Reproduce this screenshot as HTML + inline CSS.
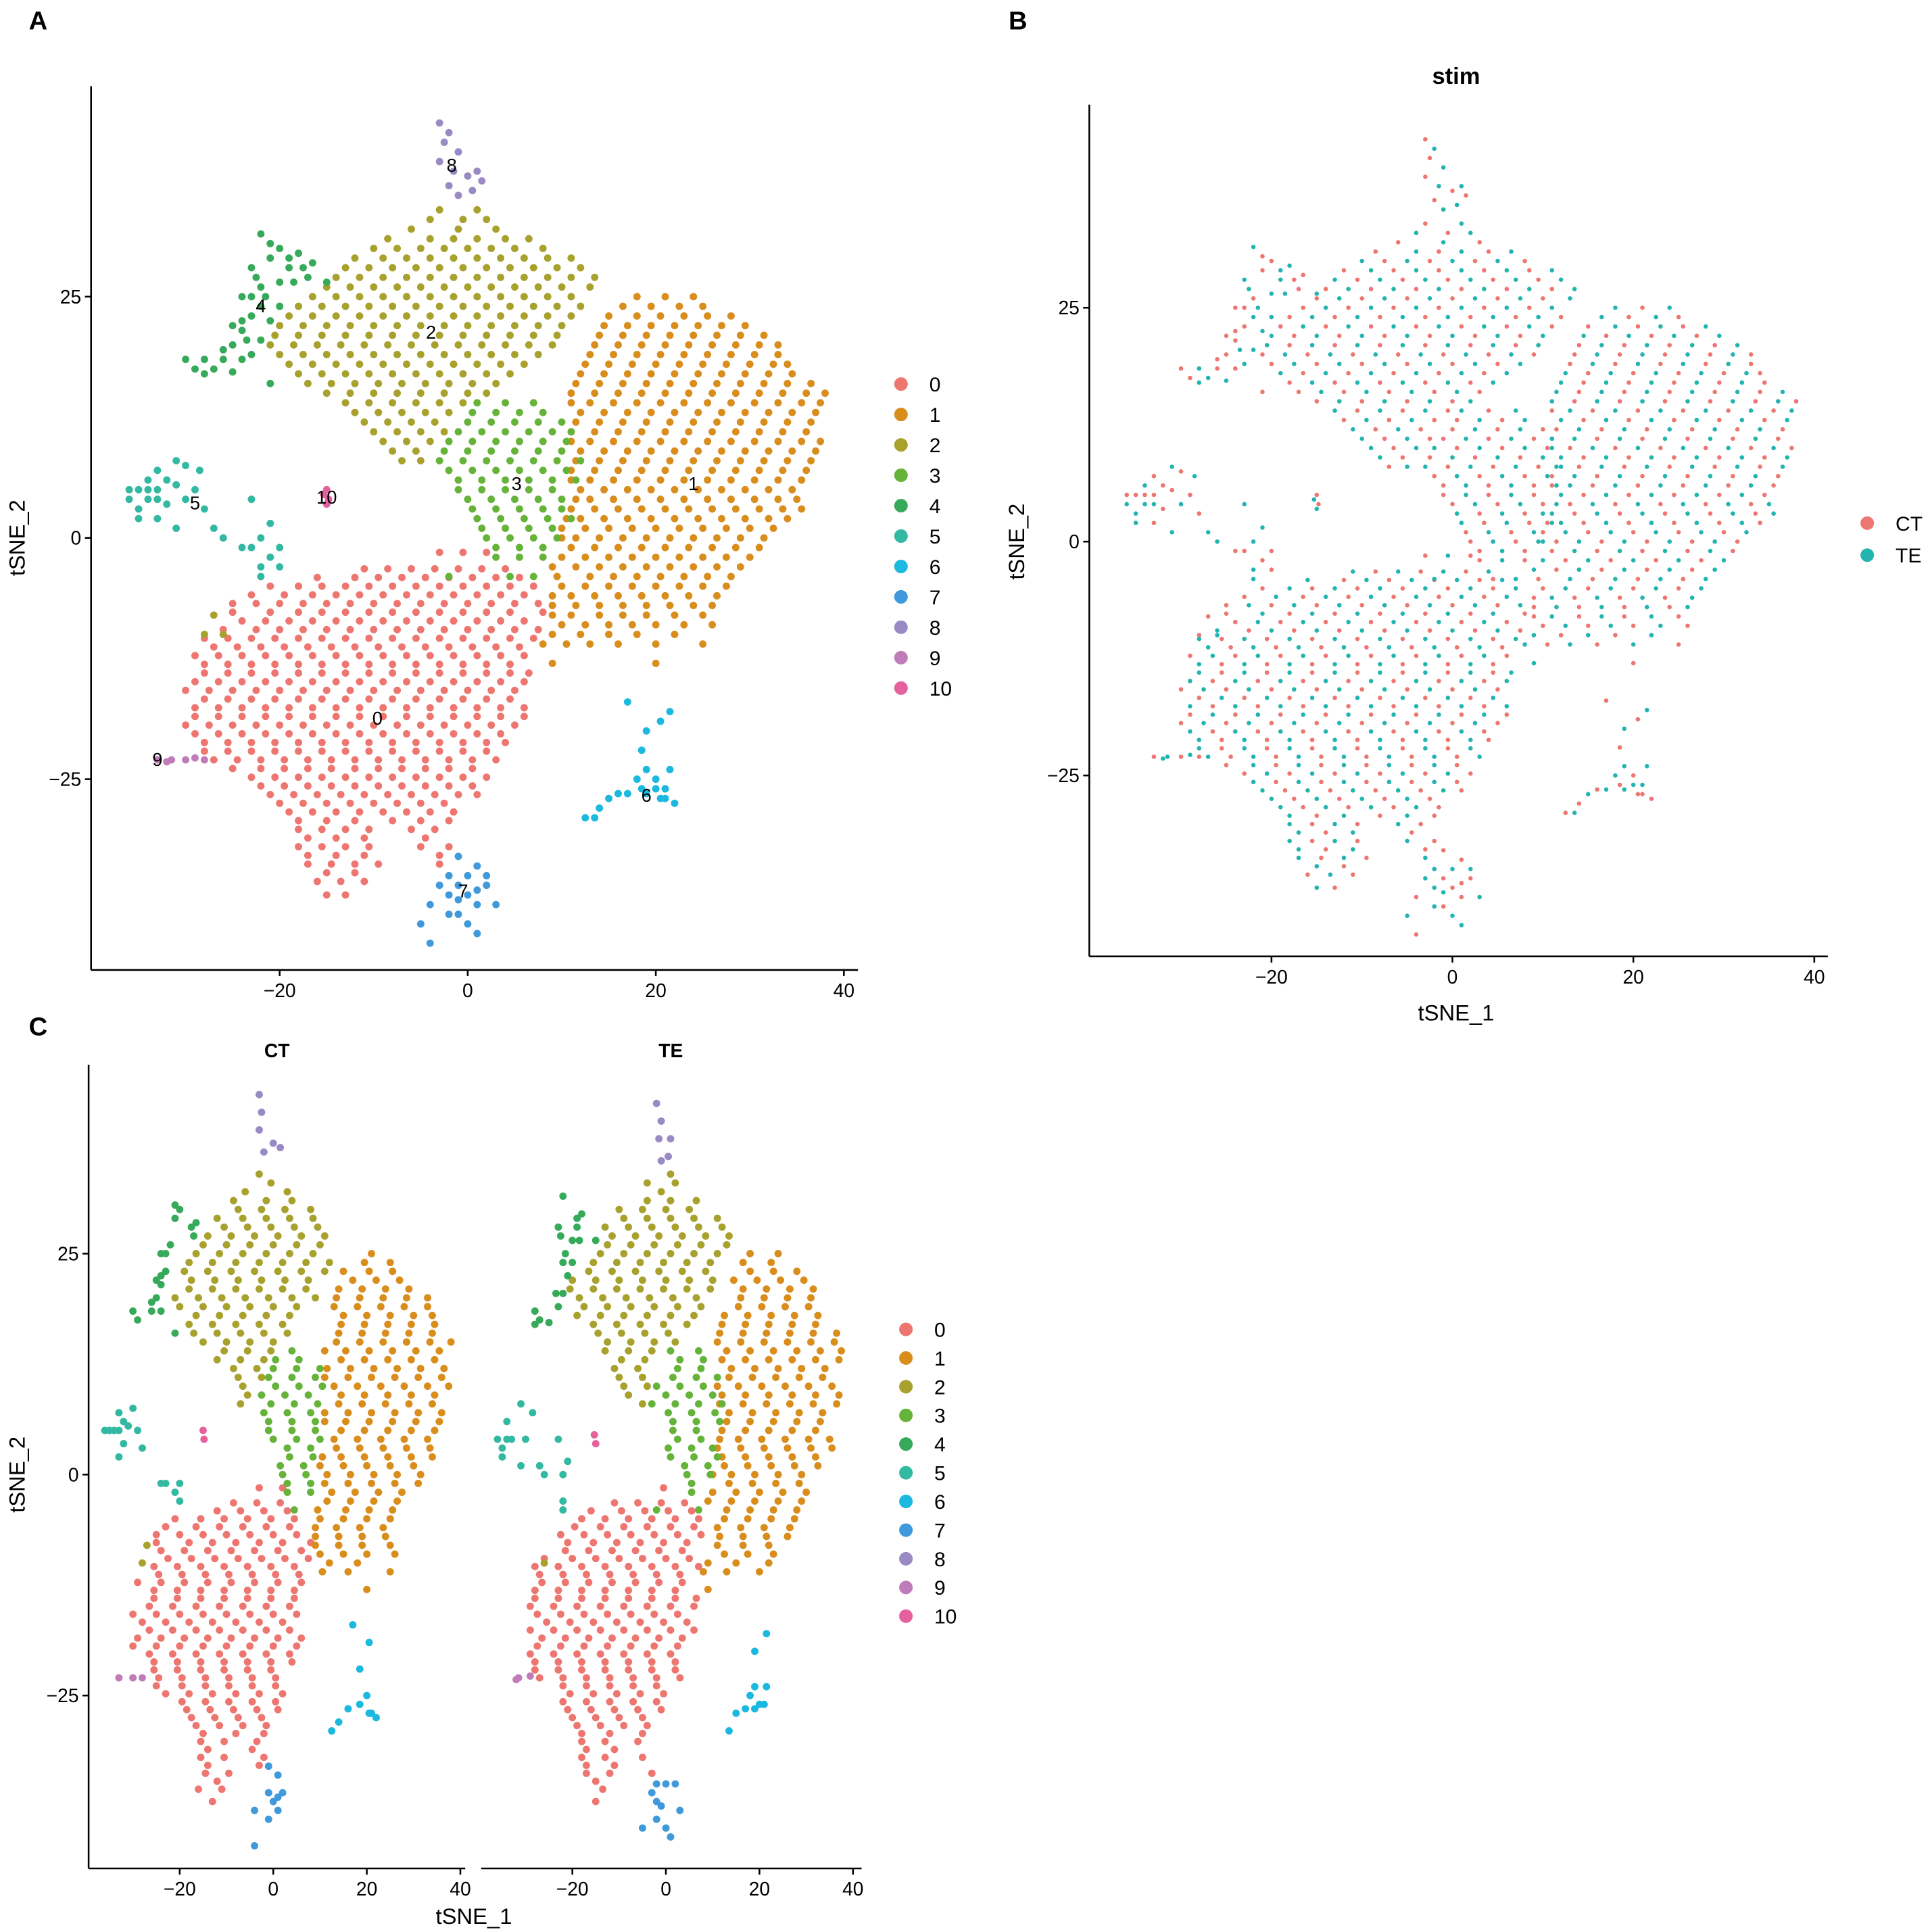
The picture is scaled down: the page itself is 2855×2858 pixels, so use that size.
<!DOCTYPE html>
<html><head><meta charset="utf-8"><style>
html,body{margin:0;padding:0;background:#fff;}
svg{display:block;font-family:"Liberation Sans",Arial,sans-serif;}
</style></head><body>
<svg id="fig" width="2855" height="2858" viewBox="0 0 1568 1569.6" xmlns="http://www.w3.org/2000/svg">
<rect x="0" y="0" width="1568" height="1570" fill="#fff"/>
<g id="gA"></g>
<g id="gB"></g>
<g id="gC"></g>
</svg>
<script>
// ---------- DATA (tSNE units) ----------
const clusterNames = ["0","1","2","3","4","5","6","7","8","9","10"];
const clusterColors = ["#EE7670","#D98D1C","#A8A12D","#66B33A","#36AA5A","#33B8A2","#1BB8DF","#4099DA","#9A8AC4","#C07CB8","#E4619E"];
const stimNames = ["CT","TE"];
const stimColors = ["#EE7670","#22B5B0"];
const stimCycle = ["CT","TE"];
const xTicks = [-20,0,20,40];
const yTicks = [-25,0,25];
// rows: [y, x, x, x ...]
const rows0 = [
[-1.5,-3,-0.5,2],
[-3.2,-11,-8.5,-6,-3.5,-1,1.5,4],
[-5,-21,-18,-15.5,-13,-10.5,-8,-5.5,-3,-0.5,2,4.5,7],
[-6.8,-25,-22.5,-20,-17.5,-15,-12.5,-10,-7.5,-5,-2.5,0,2.5,5,7.5],
[-8.6,-24,-21.5,-19,-16.5,-14,-11.5,-9,-6.5,-4,-1.5,1,3.5,6],
[-10.4,-28,-25.5,-23,-20.5,-18,-15.5,-13,-10.5,-8,-5.5,-3,-0.5,2,4.5,7],
[-12.2,-29,-26.5,-24,-21.5,-19,-16.5,-14,-11.5,-9,-6.5,-4,-1.5,1,3.5,6],
[-14,-28,-25.5,-23,-20.5,-18,-15.5,-13,-10.5,-8,-5.5,-3,-0.5,2,4.5,6.5],
[-15.8,-30,-27.5,-25,-22.5,-20,-17.5,-15,-12.5,-10,-7.5,-5,-2.5,0,2.5,5],
[-17.6,-29,-26.5,-24,-21.5,-19,-16.5,-14,-11.5,-9,-6.5,-4,-1.5,1,3.5,6],
[-19.4,-30,-27.5,-25,-22.5,-20,-17.5,-15,-12.5,-10,-7.5,-5,-2.5,0,2.5,5],
[-21.2,-28,-25.5,-23,-20.5,-18,-15.5,-13,-10.5,-8,-5.5,-3,-0.5,2,4],
[-23,-27,-24.5,-22,-19.5,-17,-14.5,-12,-9.5,-7,-4.5,-2,0.5,3],
[-24.8,-23,-20.5,-18,-15.5,-13,-10.5,-8,-5.5,-3,-0.5,2],
[-26.6,-21,-18.5,-16,-13.5,-11,-8.5,-6,-3.5,-1,1],
[-28.4,-19,-16.5,-14,-11.5,-9,-6.5,-4,-1.5],
[-30.2,-18,-15.5,-13,-10.5,-6,-3.5],
[-32,-18,-15.5,-13,-10.5,-5,-2],
[-33.8,-17,-14.5,-12,-9.5,-3],
[-35.6,-16,-13.5,-11],
[-37,-15,-13]
];
const rows0b = [
[-4.1,-16,-12,-9.5,-7,-4.5,-2,0.5,3,5.5],
[-5.9,-23,-19.5,-16.5,-14,-11.5,-9,-6.5,-4,-1.5,1,3.5,6],
[-7.7,-25,-21,-18,-15.5,-13,-10.5,-8,-5.5,-3,-0.5,2,4.5,8],
[-9.5,-26,-22.5,-20,-17.5,-15,-12.5,-10,-7.5,-5,-2.5,0,2.5,5,7.5],
[-11.3,-27,-24.5,-22,-19.5,-17,-14.5,-12,-9.5,-7,-4.5,-2,0.5,3,5.5],
[-13.1,-28,-25.5,-23,-20.5,-18,-15.5,-13,-10.5,-8,-5.5,-3,-0.5,2,4.5],
[-14.9,-29,-26.5,-24,-21.5,-19,-16.5,-14,-11.5,-9,-6.5,-4,-1.5,1,3.5,6],
[-16.7,-28,-25.5,-23,-20.5,-18,-15.5,-13,-10.5,-8,-5.5,-3,-0.5,2,4.5],
[-18.5,-29,-26.5,-24,-21.5,-19,-16.5,-14,-11.5,-9,-6.5,-4,-1.5,1,3.5,6],
[-20.3,-29,-26.5,-24,-21.5,-19,-16.5,-14,-11.5,-9,-6.5,-4,-1.5,1,3.5],
[-22.1,-28,-25.5,-23,-20.5,-18,-15.5,-13,-10.5,-8,-5.5,-3,-0.5,2],
[-23.9,-25,-22,-19.5,-17,-14.5,-12,-9.5,-7,-4.5,-2,0.5],
[-25.7,-22,-19.5,-17,-14.5,-12,-9.5,-7,-4.5,-2,0.5],
[-27.5,-20,-17.5,-15,-12.5,-10,-7.5,-5,-2.5],
[-29.3,-18,-15,-12,-8,-5,-2],
[-31.1,-17,-14,-11,-4.5],
[-32.9,-17,-14,-11,-3],
[-34.7,-15,-12]
];
const rows1 = [
[25,18,21,24],
[23,15,18,20.5,23,25.5,28],
[21,14,16.5,19,21.5,24,26.5,29,31.5],
[19,13,15.5,18,20.5,23,25.5,28,30.5,33],
[17,12,14.5,17,19.5,22,24.5,27,29.5,32,34.5],
[15,11,13.5,16,18.5,21,23.5,26,28.5,31,33.5,36,38],
[13,12,14.5,17,19.5,22,24.5,27,29.5,32,34.5,37],
[11,11,13.5,16,18.5,21,23.5,26,28.5,31,33.5,36],
[9,12,14.5,17,19.5,22,24.5,27,29.5,32,34.5,37],
[7,11,13.5,16,18.5,21,23.5,26,28.5,31,33.5,36],
[5,12,14.5,17,19.5,22,24.5,27,29.5,32,34.5],
[3,11,13.5,16,18.5,21,23.5,26,28.5,31,33.5,35.5],
[1,10,12.5,15,17.5,20,22.5,25,27.5,30,32.5],
[-1,11,13.5,16,18.5,21,23.5,26,28.5,31],
[-3,9,11.5,14,16.5,19,21.5,24,26.5,29],
[-5,10,12.5,15,17.5,20,22.5,25,27.5],
[-7,9,11.5,14,16.5,19,21.5,24,26],
[-9,10,12.5,15,17.5,20,23,26],
[-11,8,10.5,13,16,20,25],
[-13,9,20]
];
const rows1b = [
[24,16.5,19.5,22.5,25],
[22,14.5,17,19.5,22,24.5,27,29.5],
[20,13.5,16,18.5,21,23.5,26,28.5,31,33],
[18,12.5,15,17.5,20,22.5,25,27.5,30,32.5,34],
[16,11.5,14,16.5,19,21.5,24,26.5,29,31.5,34,36.5],
[14,11,13,15.5,18,20.5,23,25.5,28,30.5,33,35.5,37.5],
[12,11.5,14,16.5,19,21.5,24,26.5,29,31.5,34,36.5],
[10,11,13,15.5,18,20.5,23,25.5,28,30.5,33,35.5,37.5],
[8,11.5,14,16.5,19,21.5,24,26.5,29,31.5,34,36.5],
[6,11,13,15.5,18,20.5,23,25.5,28,30.5,33,35.5],
[4,11.5,13,15.5,18,20.5,23,25.5,28,30.5,33,35],
[2,10.5,12,14.5,17,19.5,22,24.5,27,29.5,32,34],
[0,10,11.5,14,16.5,19,21.5,24,26.5,29,31.5],
[-2,10,12.5,15,17.5,20,22.5,25,27.5,30],
[-4,9.5,13,15.5,18,20.5,23,25.5,28],
[-6,9,11,13.5,16,18.5,21,23.5,26.5],
[-8,9,11,14,16.5,19,22,25],
[-10,9,12,15,18,22]
];
const rows2 = [
[34,-3,1],
[32,-6,-1,3],
[30,-10,-7.5,-5,-2.5,0,2.5,5,8],
[28,-13,-10.5,-8,-5.5,-3,-0.5,2,4.5,7,9.5,12],
[26,-15,-12.5,-10,-7.5,-5,-2.5,0,2.5,5,7.5,10,13],
[24,-18,-15.5,-13,-10.5,-8,-5.5,-3,-0.5,2,4.5,7,9.5,12],
[22,-20,-17.5,-15,-12.5,-10,-7.5,-5,-2.5,0,2.5,5,7.5,10],
[20,-21,-18.5,-16,-13.5,-11,-8.5,-6,-3.5,-1,1.5,4,6.5,9],
[18,-19,-16.5,-14,-11.5,-9,-6.5,-4,-1.5,1,3.5,6],
[16,-17,-14.5,-12,-9.5,-7,-4.5,-2,0.5,3],
[14,-13,-10.5,-8,-5.5,-3,-0.5],
[12,-11,-8.5,-6,-3.5],
[10,-9,-6.5,-4],
[8,-7,-5],
[-8,-27],
[-10,-26,-28]
];
const rows2b = [
[33,-4,-0.5,2],
[31,-8.5,-4,-1.5,1,4,6.5],
[29,-12,-9,-6.5,-4,-1.5,1,3.5,6,8.5,11],
[27,-14,-11.5,-9,-6.5,-4,-1.5,1,3.5,6,8.5,11,13.5],
[25,-16.5,-14,-11.5,-9,-6.5,-4,-1.5,1,3.5,6,8.5,11],
[23,-19,-16.5,-14,-11.5,-9,-6.5,-4,-1.5,1,3.5,6,8.5,11],
[21,-20.5,-18,-15.5,-13,-10.5,-8,-5.5,-3,-0.5,2,4.5,7,9.5],
[19,-20,-17.5,-15,-12.5,-10,-7.5,-5,-2.5,0,2.5,5,7.5],
[17,-18,-15.5,-13,-10.5,-8,-5.5,-3,-0.5,2,4.5],
[15,-15,-12.5,-10,-7.5,-5,-2.5,0,2],
[13,-12,-9.5,-7,-4.5,-2],
[11,-10,-7.5,-5,-2.5],
[9,-8,-5.5]
];
const rows3 = [
[14,1,4,7],
[12,0,2.5,5,7.5,10],
[10,-2,0.5,3,5.5,8,10.5],
[8,-3,-0.5,2,4.5,7,9.5,12],
[6,-1,1.5,4,6.5,9,11.5],
[4,0,2.5,5,7.5,10],
[2,1,3.5,6,8.5,11],
[0,2,4.5,7,9.5],
[-2,3,5.5,8],
[-4,-2,4.5,7]
];
const rows3b = [
[13,0.5,3,5.5,8],
[11,-1,1.5,4,6.5,9,11],
[9,-2.5,0,2.5,5,7.5,10],
[7,-2,0.5,3,5.5,8,10.5],
[5,-1,1.5,4,6.5,9],
[3,0.5,3,5.5,8,10],
[1,1.5,4,6.5,9],
[-1,3,5.5,8]
];
const pts4 = [[-22,31.5],[-20,30],[-18,29.5],[-16.5,28.5],[-19,28],[-21,29],[-23,28],[-17,27],[-15,26.5],[-22,26],[-20,26.5],[-24,25],[-22,24],[-23,23],[-21,22.5],[-24,21.5],[-22,20.5],[-25,20],[-23,19],[-26,18.5],[-28,18.5],[-30,18.5],[-27,17.5],[-29,17.5],[-25,17.2],[-24,22.5],[-20,24],[-21,16],[-18.5,26.5],[-21,30.5],[-19,29],[-17.5,28],[-22.5,27],[-23,25],[-21.5,25],[-25,22],[-23.5,20.5],[-26,19.5],[-28,17],[-24,18.5]];
const pts5 = [[-36,4],[-35,5],[-34,6],[-33,7],[-35,3],[-33,5],[-34,4],[-32,6],[-31,8],[-30,7.5],[-28.5,7],[-32,3.5],[-35,2],[-31,5.5],[-30,4],[-33,2],[-31,1],[-29,5],[-26,0],[-24,-1],[-22,-3],[-21,-2],[-22,0],[-20,-1],[-21,1.5],[-23,-1],[-22,-4],[-20,-3],[-27,1],[-28,3],[-23,4],[-34,5],[-33,4],[-36,5]];
const pts6 = [[21.5,-18],[20.5,-19],[19,-20],[18.5,-22],[19,-24],[17,-17],[18,-25],[20,-25],[19,-26.5],[20.5,-27],[21,-26],[22,-27.5],[17,-26.5],[16,-26.5],[15,-27],[14,-28],[13.5,-29],[12.5,-29],[21.5,-24],[18.5,-26],[20,-26],[21,-27]];
const pts7 = [[-5,-40],[-4,-38],[-2,-37],[-1,-36],[0,-35],[1,-34],[2,-35],[0,-37],[-2,-39],[1,-38],[3,-38],[-1,-39],[0,-40],[2,-36],[-3,-36],[-1,-33],[1,-41],[-4,-42],[-1,-37.5],[1,-36.5],[-2,-35]];
const pts8 = [[-3,43],[-2,42],[-2.5,41],[-1,40],[-3,39],[-1.5,38],[0,37.5],[1,38],[-2,36.5],[0.5,36],[1.5,37],[-1,35.5]];
const pts9 = [[-33,-23],[-31.5,-23],[-30,-23],[-29,-22.8],[-28,-23],[-32,-23.2]];
const pts10 = [[-15,5],[-15.3,4.5],[-14.8,4],[-15,3.5]];
const labelPos = [[-9.6,-18.7],[24,5.6],[-3.9,21.3],[5.2,5.6],[-22,24],[-29,3.6],[19,-26.7],[-0.5,-36.6],[-1.7,38.6],[-33,-23],[-15,4.2]];

// ---------- build point list ----------
const points = [];
function addRows(rows,c){rows.forEach(r=>{for(let i=1;i<r.length;i++)points.push({x:r[i],y:r[0],c:c});});}
function addPts(ps,c){ps.forEach(p=>points.push({x:p[0],y:p[1],c:c}));}
addRows(rows0,0);addRows(rows0b,0);addRows(rows1,1);addRows(rows1b,1);addRows(rows2,2);addRows(rows2b,2);addRows(rows3,3);addRows(rows3b,3);
addPts(pts4,4);addPts(pts5,5);addPts(pts6,6);addPts(pts7,7);addPts(pts8,8);addPts(pts9,9);addPts(pts10,10);
points.forEach((p,i)=>{p.s=stimCycle[i%stimCycle.length];});

const NS="http://www.w3.org/2000/svg";
function mk(parent,tag,attrs,txt){const e=document.createElementNS(NS,tag);for(const k in attrs)e.setAttribute(k,attrs[k]);if(txt!==undefined)e.textContent=txt;parent.appendChild(e);return e;}

function axes(g,o){
  const sx=v=>o.x0+o.kx*v, sy=v=>o.y0-o.ky*v;
  const xl=mk(g,'line',{x1:o.left,y1:o.bottom,x2:o.right,y2:o.bottom,stroke:'#000','stroke-width':1.4});
  
  
  xTicks.forEach(t=>{
    const tk=mk(g,'line',{x1:sx(t),y1:o.bottom,x2:sx(t),y2:o.bottom+5,stroke:'#000','stroke-width':1.4});
    
    
    const tl=mk(g,'text',{x:sx(t),y:o.bottom+22,'text-anchor':'middle','font-size':15.5,fill:'#000'},t<0?'\u2212'+(-t):String(t));
    
    
  });
  if(o.yaxis){
    const yl=mk(g,'line',{x1:o.left,y1:o.top,x2:o.left,y2:o.bottom,stroke:'#000','stroke-width':1.4});
    
    
    yTicks.forEach(t=>{
      const tk=mk(g,'line',{x1:o.left-5,y1:sy(t),x2:o.left,y2:sy(t),stroke:'#000','stroke-width':1.4});
      
      
      const tl=mk(g,'text',{x:o.left-8,y:sy(t)+5.5,'text-anchor':'end','font-size':15.5,fill:'#000'},t<0?'\u2212'+(-t):String(t));
      
      
    });
  }
  return {sx,sy};
}
function title(g,txt,x,y,rot,size,bold,name){
  const t=mk(g,'text',{x:x,y:y,'text-anchor':'middle','font-size':size,'font-weight':bold?'bold':'normal',fill:'#000'},txt);
  if(rot)t.setAttribute('transform','rotate(-90 '+x+' '+y+')');
  
  
}
function clusterLegend(g,x,y0,step){
  clusterNames.forEach((n,i)=>{
    const c=mk(g,'circle',{cx:x,cy:y0+i*step,r:5.5,fill:clusterColors[i]});
    
    
    const t=mk(g,'text',{x:x+23,y:y0+i*step+6,'font-size':16.5,fill:'#000'},n);
    
    
  });
}

// ---------- Panel A ----------
const gA=document.getElementById('gA');
title(gA,'A',31,24,false,21,true,'panel-label-a');
const A=axes(gA,{x0:380,kx:7.64,y0:437,ky:7.84,left:74,right:697,top:70,bottom:788,yaxis:true});
title(gA,'tSNE_2',20,437,true,18,false,'y-axis-title');
points.forEach(p=>{
  const c=mk(gA,'circle',{cx:A.sx(p.x),cy:A.sy(p.y),r:3,fill:clusterColors[p.c]});
  
  
});
labelPos.forEach((lp,i)=>{
  const t=mk(gA,'text',{x:A.sx(lp[0]),y:A.sy(lp[1])+5,'text-anchor':'middle','font-size':15,fill:'#000'},clusterNames[i]);
  
  
});
clusterLegend(gA,732,312,24.7);

// ---------- Panel B ----------
const gB=document.getElementById('gB');
title(gB,'B',827,24,false,21,true,'panel-label-b');
title(gB,'stim',1183,68,false,19,true,'plot-title-stim');
const B=axes(gB,{x0:1180,kx:7.35,y0:440,ky:7.6,left:885,right:1485,top:85,bottom:777,yaxis:true});
title(gB,'tSNE_2',832,440,true,18,false,'y-axis-title');
title(gB,'tSNE_1',1183,829,false,18,false,'x-axis-title');
["CT","TE"].forEach(s=>{
  points.filter(p=>p.s===s).forEach(p=>{
    const c=mk(gB,'circle',{cx:B.sx(p.x),cy:B.sy(p.y),r:1.8,fill:stimColors[stimNames.indexOf(s)]});
    
    
  });
});
stimNames.forEach((n,i)=>{
  const c=mk(gB,'circle',{cx:1517,cy:425+i*26,r:5.5,fill:stimColors[i]});
  
  
  const t=mk(gB,'text',{x:1540,y:431+i*26,'font-size':16.5,fill:'#000'},n);
  
  
});

// ---------- Panel C ----------
const gC=document.getElementById('gC');
title(gC,'C',31,841,false,21,true,'panel-label-c');
title(gC,'CT',225,859,false,15.5,true,'facet-title-ct');
title(gC,'TE',545,859,false,15.5,true,'facet-title-te');
const C1=axes(gC,{x0:222,kx:3.8,y0:1198,ky:7.18,left:72,right:378,top:865,bottom:1518,yaxis:true});
const C2=axes(gC,{x0:541,kx:3.8,y0:1198,ky:7.18,left:391,right:700,top:865,bottom:1518,yaxis:false});
title(gC,'tSNE_2',20,1198,true,18,false,'y-axis-title');
title(gC,'tSNE_1',385,1563,false,18,false,'x-axis-title');
points.forEach(p=>{
  const S=p.s==='CT'?C1:C2;
  const c=mk(gC,'circle',{cx:S.sx(p.x),cy:S.sy(p.y),r:3,fill:clusterColors[p.c]});
  
  
});
clusterLegend(gC,736,1080,23.3);
</script>
</body></html>
